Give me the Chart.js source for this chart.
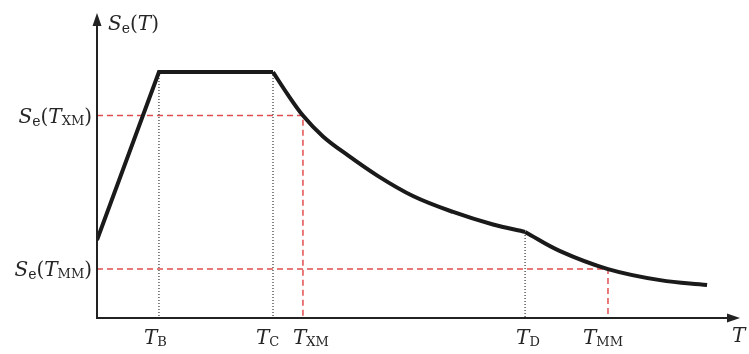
<!DOCTYPE html>
<html>
<head>
<meta charset="utf-8">
<script src="https://cdn.jsdelivr.net/npm/chart.js@4/dist/chart.umd.min.js"></script>
<style>
  html, body { margin: 0; padding: 0; background: #fff; }
  canvas { display: block; }
</style>
</head>
<body>
<canvas id="spectrum" width="749" height="354"></canvas>
<script>
// Characteristic periods (abscissa, period T)
const periodKeys = ['TB', 'TC', 'TXM', 'TD', 'TMM'];
const periods = [0.352, 1.0, 1.17, 2.432, 2.903];

// Design spectrum Se(T): rising branch and plateau
const riseT = [0, 0.352, 1.0];
const riseSe = [0.317, 1.0, 1.0];

// Descending branch between TC and TD
const fallT = [1.0, 1.085, 1.17, 1.284, 1.426, 1.597, 1.795, 2.023, 2.25, 2.432];
const fallSe = [1.0, 0.907, 0.823, 0.738, 0.661, 0.577, 0.496, 0.431, 0.38, 0.35];

// Long-period branch beyond TD
const tailT = [2.432, 2.631, 2.903, 3.199, 3.466];
const tailSe = [0.35, 0.272, 0.199, 0.154, 0.134];

// Spectral ordinates marked on the vertical axis
const seXM = 0.823;
const seMM = 0.199;

// Axis extents
const tMax = 3.653;
const seMax = 1.24;

const pts = (xs, ys) => xs.map((x, i) => ({ x: x, y: ys[i] }));

const RED = 'rgba(222, 58, 58, 0.9)';
const INK = '#1a1a1a';
const FONT = '"DejaVu Serif", "Liberation Serif", serif';

function guide(points, dash, color, width) {
  return {
    data: points, borderColor: color, borderWidth: width, borderDash: dash,
    pointRadius: 0, tension: 0, fill: false, order: 5
  };
}

const datasets = [
  { data: pts(riseT, riseSe), borderColor: INK, borderWidth: 4, pointRadius: 0,
    tension: 0, fill: false, order: 1, borderJoinStyle: 'miter' },
  { data: pts(fallT, fallSe), borderColor: INK, borderWidth: 4, pointRadius: 0,
    cubicInterpolationMode: 'monotone', fill: false, order: 1 },
  { data: pts(tailT, tailSe), borderColor: INK, borderWidth: 4, pointRadius: 0,
    tension: 0.4, fill: false, order: 1 },
  // dotted drops at TB, TC, TD
  guide([{ x: periods[0], y: riseSe[1] }, { x: periods[0], y: 0 }], [1, 2], '#333', 1.2),
  guide([{ x: periods[1], y: riseSe[2] }, { x: periods[1], y: 0 }], [1, 2], '#333', 1.2),
  guide([{ x: periods[3], y: tailSe[0] }, { x: periods[3], y: 0 }], [1, 2], '#333', 1.2),
  // red dashed projections for TXM and TMM
  guide([{ x: 0, y: seXM }, { x: periods[2], y: seXM }, { x: periods[2], y: 0 }], [6, 4], RED, 1.5),
  guide([{ x: 0, y: seMM }, { x: periods[4], y: seMM }, { x: periods[4], y: 0 }], [6, 4], RED, 1.5)
];

// Text runs: [text, italic, size, dy]
function runWidth(ctx, parts) {
  let w = 0;
  for (const p of parts) {
    ctx.font = (p[1] ? 'italic ' : '') + p[2] + 'px ' + FONT;
    w += ctx.measureText(p[0]).width;
  }
  return w;
}
function drawRun(ctx, parts, x, y, align) {
  const w = runWidth(ctx, parts);
  let cx = align === 'right' ? x - w : align === 'center' ? x - w / 2 : x;
  ctx.textBaseline = 'alphabetic';
  ctx.textAlign = 'left';
  for (const p of parts) {
    ctx.font = (p[1] ? 'italic ' : '') + p[2] + 'px ' + FONT;
    ctx.fillText(p[0], cx, y + (p[3] || 0));
    cx += ctx.measureText(p[0]).width;
  }
}

const subs = { TB: 'B', TC: 'C', TXM: 'XM', TD: 'D', TMM: 'MM' };
// horizontal offset of each period label from its tick
const labelShift = { TB: -15, TC: -17, TXM: -10, TD: -9, TMM: -25 };

const axesPlugin = {
  id: 'spectrumAxes',
  afterDatasetsDraw(chart) {
    const { ctx, scales: { x, y } } = chart;
    const x0 = x.getPixelForValue(0), y0 = y.getPixelForValue(0);
    const xEnd = x.getPixelForValue(tMax), yTop = y.getPixelForValue(seMax);
    ctx.save();
    ctx.strokeStyle = '#222';
    ctx.fillStyle = '#222';
    ctx.lineWidth = 2;
    ctx.beginPath();
    ctx.moveTo(x0, yTop + 10);
    ctx.lineTo(x0, y0);
    ctx.lineTo(xEnd - 10, y0);
    ctx.stroke();
    // arrow heads
    ctx.beginPath();
    ctx.moveTo(x0, yTop);
    ctx.lineTo(x0 - 4.5, yTop + 13);
    ctx.lineTo(x0 + 4.5, yTop + 13);
    ctx.closePath();
    ctx.fill();
    ctx.beginPath();
    ctx.moveTo(xEnd, y0);
    ctx.lineTo(xEnd - 13, y0 - 4.5);
    ctx.lineTo(xEnd - 13, y0 + 4.5);
    ctx.closePath();
    ctx.fill();

    ctx.fillStyle = '#262626';
    // vertical axis title
    drawRun(ctx, [['S', true, 20], ['e', false, 14, 3], ['(', false, 20], ['T', true, 20], [')', false, 20]],
      x0 + 11, yTop + 17, 'left');
    // ordinate labels
    const yXM = y.getPixelForValue(seXM), yMM = y.getPixelForValue(seMM);
    drawRun(ctx, [['S', true, 20], ['e', false, 14, 3], ['(', false, 20], ['T', true, 20], ['XM', false, 13, 2], [')', false, 20]],
      x0 - 5, yXM + 7, 'right');
    drawRun(ctx, [['S', true, 20], ['e', false, 14, 3], ['(', false, 20], ['T', true, 20], ['MM', false, 13, 2], [')', false, 20]],
      x0 - 5, yMM + 7, 'right');
    // period labels
    periodKeys.forEach((k, i) => {
      const px = x.getPixelForValue(periods[i]);
      drawRun(ctx, [['T', true, 20], [subs[k], false, 13, 2]], px + labelShift[k], y0 + 26, 'left');
    });
    drawRun(ctx, [['T', true, 20]], xEnd - 8, y0 + 24, 'left');
    ctx.restore();
  }
};

new Chart(document.getElementById('spectrum'), {
  type: 'line',
  data: { datasets: datasets },
  options: {
    responsive: false,
    animation: false,
    layout: { padding: { left: 97, top: 13, right: 9, bottom: 36 } },
    plugins: { legend: { display: false }, tooltip: { enabled: false } },
    scales: {
      x: { type: 'linear', min: 0, max: tMax, display: false },
      y: { type: 'linear', min: 0, max: seMax, display: false }
    },
    elements: { line: { borderCapStyle: 'butt' } }
  },
  plugins: [axesPlugin]
});
</script>
</body>
</html>
